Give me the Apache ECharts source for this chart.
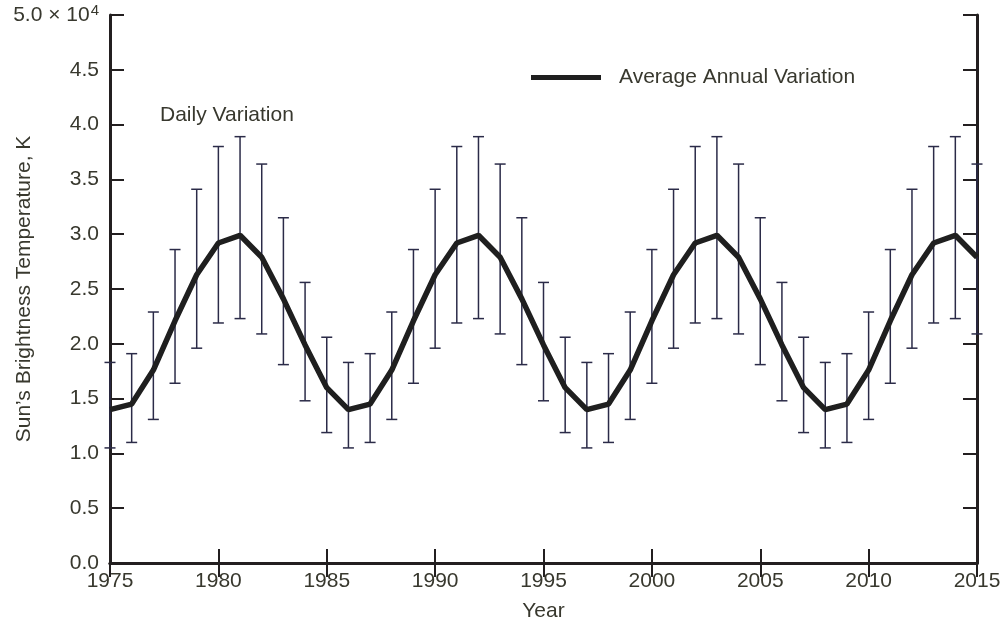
<!DOCTYPE html>
<html>
<head>
<meta charset="utf-8">
<script src="https://cdn.jsdelivr.net/npm/echarts@6/dist/echarts.min.js"></script>
<style>
  html, body { margin: 0; padding: 0; background: #fff; }
  #chart { width: 1000px; height: 624px; }
</style>
</head>
<body>
<div id="chart"></div>
<script>
// Sun's brightness temperature (K): yearly average with daily min/max range
const years = [
  1975, 1976, 1977, 1978, 1979, 1980, 1981, 1982, 1983, 1984, 1985,
  1986, 1987, 1988, 1989, 1990, 1991, 1992, 1993, 1994, 1995, 1996,
  1997, 1998, 1999, 2000, 2001, 2002, 2003, 2004, 2005, 2006, 2007,
  2008, 2009, 2010, 2011, 2012, 2013, 2014, 2015
];
const annualAverage = [
  14000, 14500, 17600, 22100, 26300, 29200, 29900, 27900, 24100, 19900, 16000,
  14000, 14500, 17600, 22100, 26300, 29200, 29900, 27900, 24100, 19900, 16000,
  14000, 14500, 17600, 22100, 26300, 29200, 29900, 27900, 24100, 19900, 16000,
  14000, 14500, 17600, 22100, 26300, 29200, 29900, 27900
];
const dailyLow = [
  10500, 11000, 13100, 16400, 19600, 21900, 22300, 20900, 18100, 14800, 11900,
  10500, 11000, 13100, 16400, 19600, 21900, 22300, 20900, 18100, 14800, 11900,
  10500, 11000, 13100, 16400, 19600, 21900, 22300, 20900, 18100, 14800, 11900,
  10500, 11000, 13100, 16400, 19600, 21900, 22300, 20900
];
const dailyHigh = [
  18300, 19100, 22900, 28600, 34100, 38000, 38900, 36400, 31500, 25600, 20600,
  18300, 19100, 22900, 28600, 34100, 38000, 38900, 36400, 31500, 25600, 20600,
  18300, 19100, 22900, 28600, 34100, 38000, 38900, 36400, 31500, 25600, 20600,
  18300, 19100, 22900, 28600, 34100, 38000, 38900, 36400
];
const xTicks = { min: 1975, max: 2015, step: 5 };
const yTicks = { min: 0, max: 50000, step: 5000 };

const FONT = "'Liberation Sans', Arial, Helvetica, sans-serif";
const FS = 21;
const TEXT = '#38382e';
const FRAME = '#231f20';

const lineData = years.map((y, i) => [y, annualAverage[i]]);
const barData = years.map((y, i) => [y, dailyLow[i], dailyHigh[i]]);

const frameAxis = {
  axisLine: { show: true, lineStyle: { color: FRAME, width: 3 } },
  axisTick: { show: true, inside: true, length: 14, lineStyle: { color: FRAME, width: 2 } },
  splitLine: { show: false }
};

const chart = echarts.init(document.getElementById('chart'));
chart.setOption({
  backgroundColor: '#ffffff',
  animation: false,
  textStyle: { fontFamily: FONT },
  grid: { left: 110, right: 23, top: 15, bottom: 61, outerBoundsMode: 'none', containLabel: false },
  xAxis: [
    Object.assign({
      type: 'value', position: 'bottom',
      min: xTicks.min, max: xTicks.max, interval: xTicks.step,
      name: 'Year', nameLocation: 'middle', nameGap: 38, nameMoveOverlap: false,
      nameTextStyle: { color: TEXT, fontSize: FS, fontFamily: FONT },
      axisLabel: { color: TEXT, fontSize: FS, fontFamily: FONT, margin: 8,
                   formatter: v => String(v) }
    }, frameAxis),
    Object.assign({
      type: 'value', position: 'top',
      min: xTicks.min, max: xTicks.max, interval: xTicks.step,
      axisLabel: { show: false }
    }, frameAxis)
  ],
  yAxis: [
    Object.assign({
      type: 'value', position: 'left',
      min: yTicks.min, max: yTicks.max, interval: yTicks.step,
      name: 'Sun\u2019s Brightness Temperature, K', nameLocation: 'middle',
      nameGap: 75, nameMoveOverlap: false,
      nameTextStyle: { color: TEXT, fontSize: FS, fontFamily: FONT },
      axisLabel: {
        color: TEXT, fontSize: FS, fontFamily: FONT, margin: 11,
        formatter: v => v === yTicks.max
          ? (v / 10000).toFixed(1) + ' \u00d7 10{sup|4}'
          : (v / 10000).toFixed(1),
        rich: {
          sup: { color: TEXT, fontSize: 15, fontFamily: FONT, padding: [0, 0, 9, 1] }
        }
      }
    }, frameAxis),
    Object.assign({
      type: 'value', position: 'right',
      min: yTicks.min, max: yTicks.max, interval: yTicks.step,
      axisLabel: { show: false }
    }, frameAxis)
  ],
  legend: {
    data: [{ name: 'Average Annual Variation', icon: 'rect' }],
    left: 531, top: 67, padding: 0,
    itemWidth: 70, itemHeight: 5,
    selectedMode: false,
    textStyle: { color: TEXT, fontSize: FS, fontFamily: FONT, padding: [0, 0, 0, 13] }
  },
  graphic: [
    {
      type: 'text', left: 160, top: 105,
      style: { text: 'Daily Variation', fill: TEXT, font: FS + 'px ' + FONT }
    }
  ],
  series: [
    {
      name: 'Daily Variation',
      type: 'custom',
      clip: false,
      z: 2,
      data: barData,
      encode: { x: 0, y: [1, 2] },
      renderItem: function (params, api) {
        const x = api.value(0);
        const lo = api.coord([x, api.value(1)]);
        const hi = api.coord([x, api.value(2)]);
        const half = 5.5;
        const style = { stroke: '#2b2b48', lineWidth: 1.5 };
        return {
          type: 'group',
          children: [
            { type: 'line', shape: { x1: lo[0], y1: lo[1], x2: hi[0], y2: hi[1] }, style },
            { type: 'line', shape: { x1: lo[0] - half, y1: lo[1], x2: lo[0] + half, y2: lo[1] }, style },
            { type: 'line', shape: { x1: hi[0] - half, y1: hi[1], x2: hi[0] + half, y2: hi[1] }, style }
          ]
        };
      }
    },
    {
      name: 'Average Annual Variation',
      type: 'line',
      z: 3,
      data: lineData,
      showSymbol: false,
      color: '#1f1f1f',
      lineStyle: { color: '#1f1f1f', width: 5.5 }
    }
  ]
});
</script>
</body>
</html>
